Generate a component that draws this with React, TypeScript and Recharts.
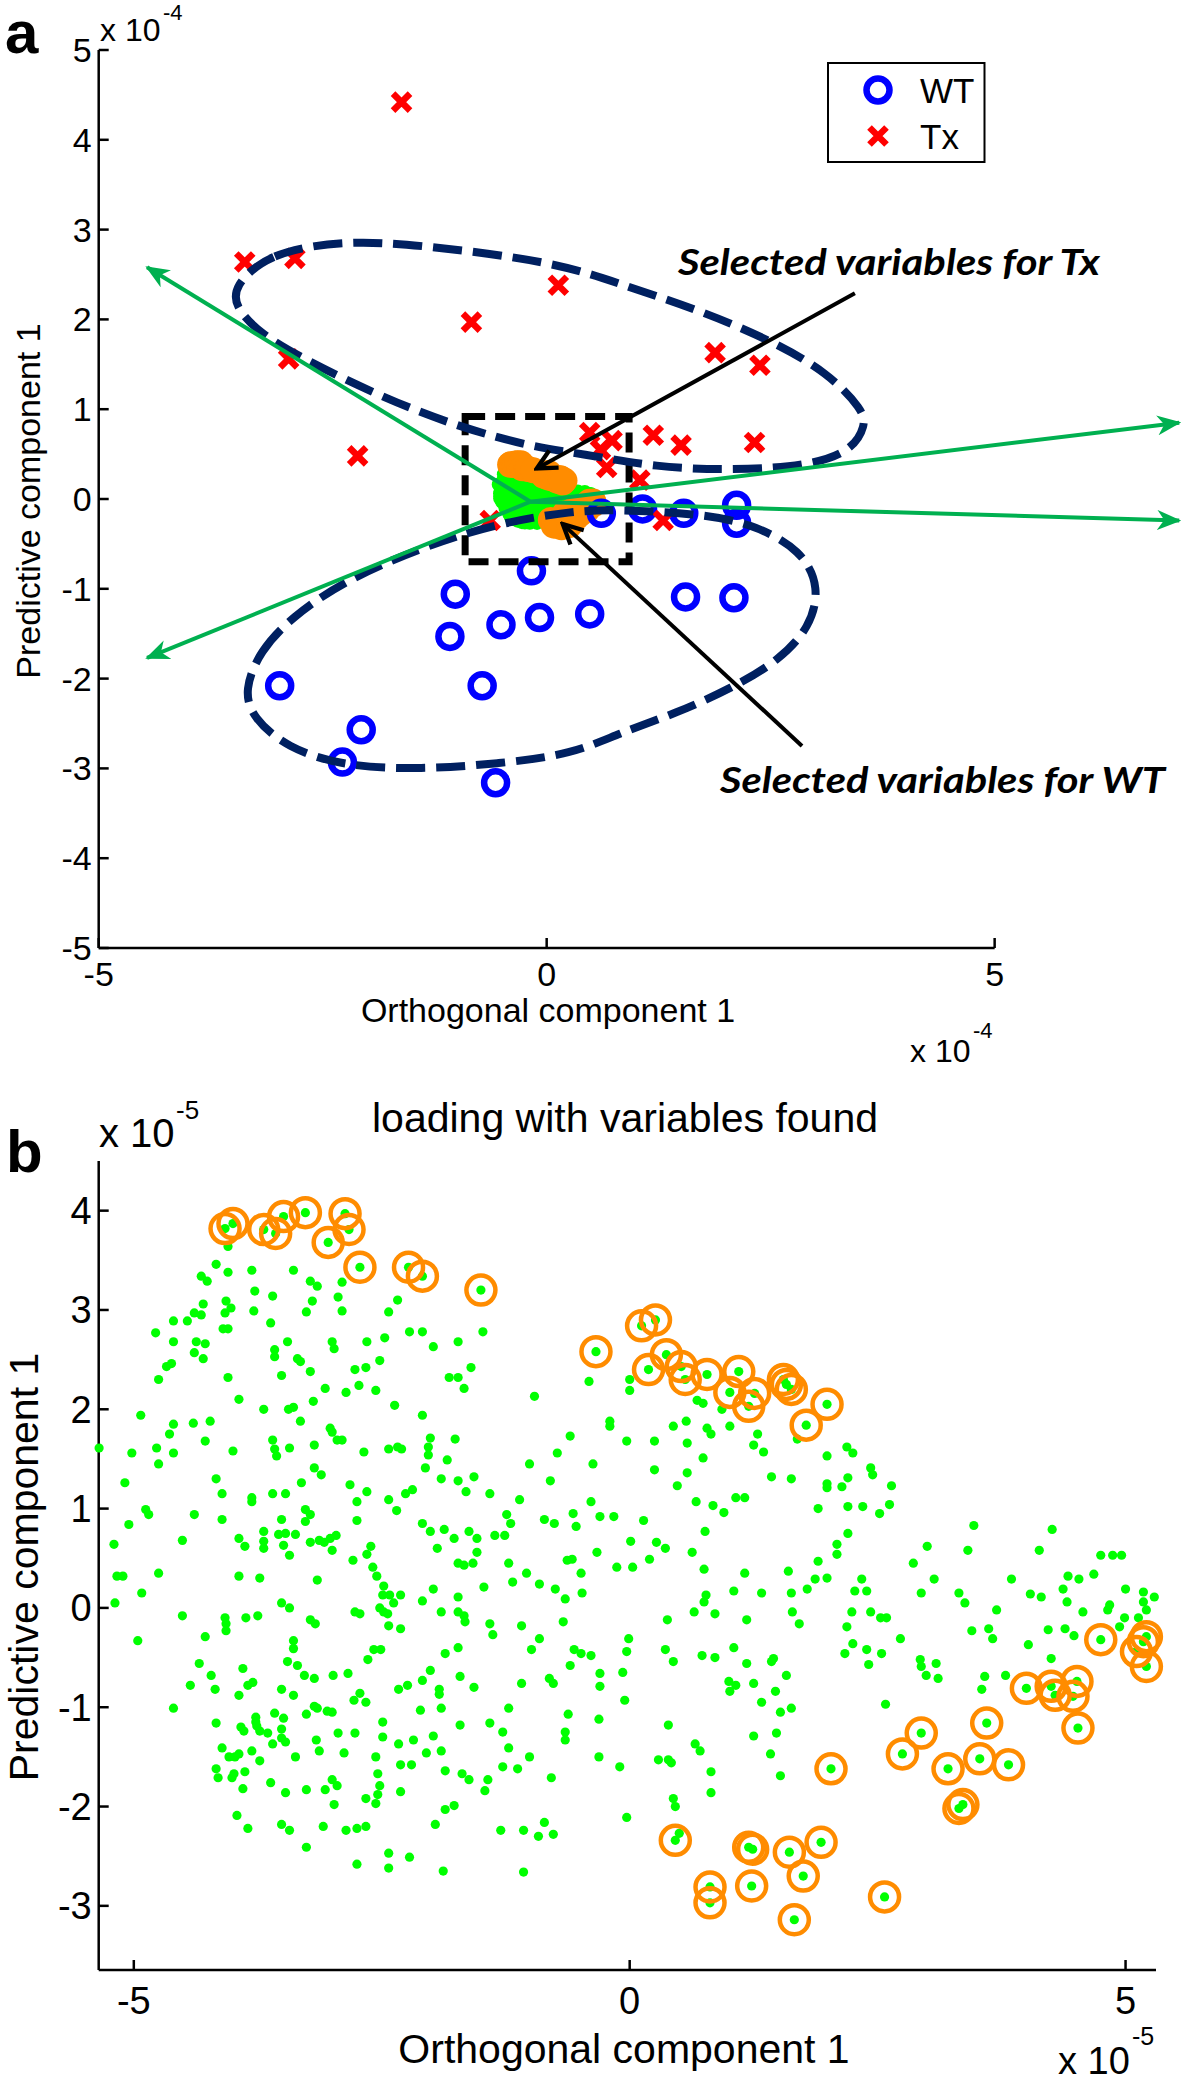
import React from 'react';
import { ComposedChart, Scatter, Line, XAxis, YAxis, ReferenceLine, ReferenceArea } from 'recharts';

const FONT = '"Liberation Sans", Arial, Helvetica, sans-serif';
const ANNOT_FONT = 'Lato, "Open Sans", sans-serif';

// ---------- Panel a : scores (units x 1e-4) ----------
const wtScores: number[][] = [
  [-1.02, -1.06], [-0.17, -0.8], [-1.08, -1.53], [-0.51, -1.4], [-0.08, -1.32], [0.48, -1.28],
  [-2.98, -2.08], [-0.72, -2.08], [-2.07, -2.57], [-2.28, -2.93], [-0.57, -3.16], [0.61, -0.16],
  [1.07, -0.11], [1.53, -0.16], [2.12, -0.07], [2.12, -0.27], [1.55, -1.09], [2.09, -1.1],
];
const txScores: number[][] = [
  [-1.62, 4.42], [-3.37, 2.64], [-2.81, 2.68], [-0.84, 1.97], [0.13, 2.38], [-2.88, 1.56],
  [-2.11, 0.48], [1.88, 1.63], [2.38, 1.49], [1.19, 0.71], [1.5, 0.6], [2.32, 0.63],
  [0.48, 0.74], [0.73, 0.65], [0.67, 0.35], [1.04, 0.21], [1.3, -0.24], [-0.63, -0.24], [0.6, 0.55],
];
// confidence ellipses, outline points
const ellipseTx: number[][] = [
  [-3.5, 2.36], [-3.11, 2.74], [-2.26, 2.88], [-1.4, 2.83], [0.09, 2.64], [0.8, 2.4], [1.66, 2.12],
  [2.5, 1.77], [3.15, 1.4], [3.53, 0.99], [3.56, 0.82], [3.41, 0.54], [2.94, 0.37], [2.08, 0.32],
  [1.23, 0.35], [0.37, 0.51], [-0.12, 0.57], [-0.98, 0.8], [-1.83, 1.13], [-2.68, 1.54], [-3.2, 1.84], [-3.47, 2.13],
];
const ellipseWT: number[][] = [
  [-3.38, -2.13], [-3.2, -1.69], [-2.85, -1.32], [-2.26, -0.91], [-1.4, -0.54], [-0.55, -0.27],
  [0.3, -0.13], [0.8, -0.12], [1.66, -0.16], [2.29, -0.27], [2.85, -0.57], [3.05, -0.99],
  [2.94, -1.43], [2.59, -1.8], [2.08, -2.1], [1.44, -2.39], [0.8, -2.61], [0.3, -2.84],
  [-0.55, -2.95], [-1.4, -3.01], [-2.26, -2.98], [-2.9, -2.77], [-3.28, -2.44],
];
const arrowOrigin = [-0.18, -0.03];
const greenArrowTips: number[][] = [[-4.46, 2.58], [-4.46, -1.77], [7.06, 0.85], [7.06, -0.24]];
const selBox = { x1: -0.91, x2: 0.92, y1: -0.7, y2: 0.92 };
const txPointer: number[][] = [[3.44, 2.29], [-0.11, 0.34]];
const wtPointer: number[][] = [[2.85, -2.75], [0.18, -0.28]];

// ---------- Panel b : loadings (units x 1e-5) ----------
const selectedLoadings: number[][] = [
  [-4.08, 3.82], [-4.0, 3.87], [-3.69, 3.81], [-3.57, 3.77], [-3.49, 3.94], [-3.27, 3.98], [-3.04, 3.68],
  [-2.87, 3.97], [-2.83, 3.81], [-2.72, 3.43], [-2.23, 3.43], [-2.09, 3.34], [-1.5, 3.2], [-0.34, 2.58],
  [0.12, 2.84], [0.26, 2.9], [0.19, 2.4], [0.37, 2.55], [0.52, 2.43], [0.56, 2.3], [0.78, 2.35],
  [1.1, 2.38], [1.01, 2.17], [1.2, 2.03], [1.26, 2.16], [1.55, 2.3], [1.58, 2.25], [1.63, 2.2],
  [1.99, 2.05], [1.78, 1.84],
  [4.75, -0.32], [5.18, -0.34], [5.21, -0.29], [5.11, -0.44], [5.21, -0.59], [4.0, -0.81], [4.25, -0.79],
  [4.51, -0.74], [4.29, -0.88], [4.47, -0.89], [4.52, -1.21], [3.6, -1.16], [2.94, -1.26], [2.75, -1.47],
  [3.21, -1.62], [3.53, -1.52], [3.82, -1.58], [3.36, -1.98], [3.32, -2.02], [2.03, -1.62], [0.46, -2.34],
  [1.2, -2.41], [1.24, -2.43], [1.61, -2.46], [1.93, -2.36], [1.75, -2.7], [0.81, -2.81], [0.81, -2.97],
  [1.23, -2.8], [1.66, -3.14], [2.57, -2.91],
];
const otherLoadingsUpperLeft: number[][] = [
  [-4.05, 3.64], [-4.17, 3.46], [-4.05, 3.38], [-3.81, 3.4], [-3.39, 3.4], [-4.32, 3.34], [-4.26, 3.29],
  [-3.22, 3.29], [-3.15, 3.24], [-2.9, 3.28], [-3.78, 3.19], [-3.6, 3.14], [-4.07, 3.09], [-4.3, 3.06],
  [-3.2, 3.09], [-2.94, 3.13], [-2.34, 3.1], [-4.08, 2.97], [-4.02, 3.02], [-4.39, 2.97], [-4.32, 2.95],
  [-3.79, 2.99], [-3.26, 2.98], [-2.9, 2.99], [-2.43, 2.98], [-4.46, 2.89], [-4.6, 2.89], [-3.62, 2.87],
  [-4.1, 2.81], [-4.05, 2.81], [-2.22, 2.78], [-2.09, 2.78], [-1.48, 2.78], [-4.78, 2.77], [-4.6, 2.68],
  [-4.37, 2.68], [-4.28, 2.66], [-3.45, 2.68], [-3.0, 2.68], [-2.65, 2.68], [-2.47, 2.72], [-1.73, 2.68],
  [-1.98, 2.63], [-3.58, 2.6], [-3.58, 2.53], [-2.98, 2.61], [-4.39, 2.57], [-4.3, 2.51], [-3.35, 2.51],
  [-3.32, 2.48], [-2.52, 2.49], [-4.67, 2.43], [-4.62, 2.46], [-3.22, 2.38], [-2.77, 2.4], [-2.66, 2.42],
  [-1.6, 2.42], [-1.82, 2.32], [-1.73, 2.32], [-0.41, 2.28], [-4.75, 2.3], [-4.05, 2.32], [-3.51, 2.34],
  [-3.07, 2.21], [-2.86, 2.17], [-2.73, 2.24], [-2.56, 2.19], [-1.67, 2.21], [-0.96, 2.13], [-3.94, 2.1],
  [-3.69, 2.0], [-3.44, 2.0], [-3.39, 2.02], [-2.37, 2.04], [-3.19, 2.08], [-4.93, 1.94], [-2.09, 1.94],
  [-4.4, 1.86], [-4.6, 1.85], [-4.23, 1.88], [-3.32, 1.88], [-4.64, 1.75], [-4.28, 1.68], [-4.0, 1.58],
  [-4.6, 1.56], [-5.02, 1.56], [-4.77, 1.61], [-4.75, 1.45], [-3.02, 1.81], [-3.0, 1.77], [-2.95, 1.69],
  [-2.9, 1.69], [-3.6, 1.69], [-3.58, 1.6], [-3.56, 1.53], [-3.43, 1.61], [-3.18, 1.64], [-2.68, 1.57],
  [-2.43, 1.6], [-2.34, 1.62], [-2.3, 1.6], [-2.01, 1.71], [-2.03, 1.62], [-2.03, 1.54], [-2.06, 1.41],
  [-1.76, 1.7], [-1.84, 1.49], [-1.9, 1.3], [-1.73, 1.28], [-1.65, 1.17], [-1.57, 1.32], [-1.41, 1.15],
  [-1.11, 1.09], [-1.01, 1.45], [-0.73, 1.56], [-0.6, 1.73], [-0.8, 1.28], [-0.37, 1.45], [-4.17, 1.3],
  [-4.11, 1.15], [-5.09, 1.26], [-5.35, 1.61], [-3.31, 1.26], [-3.18, 1.41], [-3.11, 1.34], [-2.82, 1.24],
  [-2.75, 1.07], [-2.65, 1.17], [-2.26, 1.15], [-2.19, 1.19], [-3.81, 1.11], [-3.81, 1.07], [-3.6, 1.15],
  [-3.47, 1.15], [-2.43, 1.09], [-2.35, 0.98], [-0.39, 1.07], [-0.3, 0.92], [-5.2, 0.64], [-5.05, 0.84],
  [-4.88, 0.99], [-4.85, 0.94], [-4.39, 0.94], [-4.11, 0.89], [-3.51, 0.89], [-3.27, 0.99], [-3.22, 0.94],
  [-3.27, 0.87], [-2.75, 0.88], [-3.69, 0.77], [-3.69, 0.67], [-3.69, 0.6], [-3.94, 0.7], [-3.88, 0.62],
  [-3.54, 0.74], [-3.47, 0.75], [-3.49, 0.63], [-3.43, 0.53], [-3.37, 0.74], [-3.22, 0.66], [-3.13, 0.68],
  [-3.08, 0.66], [-3.02, 0.7], [-2.96, 0.73], [-3.0, 0.58], [-2.79, 0.48], [-2.65, 0.54], [-2.61, 0.62],
  [-2.59, 0.41], [-2.09, 0.85], [-2.01, 0.77], [-1.87, 0.79], [-1.77, 0.7], [-1.94, 0.6], [-1.62, 0.77],
  [-1.54, 0.7], [-1.54, 0.56], [-1.73, 0.45], [-1.67, 0.43], [-1.58, 0.45], [-1.36, 0.73], [-1.26, 0.73],
  [-1.24, 0.94], [-1.2, 0.85], [-0.86, 0.89], [-0.76, 0.85], [-0.57, 0.95], [-0.54, 0.82], [-0.63, 0.48],
  [-0.58, 0.49], [-0.49, 0.35], [-0.33, 0.56], [-1.22, 0.45], [-1.04, 0.35], [-4.51, 0.68], [-4.75, 0.35],
  [-5.11, 0.32], [-5.17, 0.32], [-3.94, 0.32], [-3.73, 0.3], [-3.15, 0.28], [-2.55, 0.32],
];
const otherLoadingsUpperRight: number[][] = [
  [0.0, 2.3], [0.0, 2.19], [-0.2, 1.88], [-0.2, 1.83], [-0.03, 1.68], [0.25, 1.68], [0.44, 1.83],
  [0.57, 1.88], [0.68, 2.09], [0.74, 2.06], [0.93, 2.0], [0.78, 1.81], [0.82, 1.75], [1.01, 1.83],
  [0.58, 1.66], [1.29, 1.75], [1.25, 1.64], [1.35, 1.57], [0.74, 1.51], [0.25, 1.39], [0.58, 1.36],
  [1.43, 1.32], [1.63, 1.3], [1.69, 1.7], [1.99, 1.53], [2.19, 1.62], [2.25, 1.56], [2.2, 1.31],
  [2.43, 1.41], [2.45, 1.34], [2.64, 1.23], [0.48, 1.23], [1.99, 1.25], [1.99, 1.21], [2.14, 1.22],
  [-0.16, 0.92], [0.14, 0.88], [0.67, 1.07], [0.84, 1.03], [0.95, 0.96], [1.07, 1.11], [1.16, 1.11],
  [0.76, 0.77], [0.01, 0.67], [0.27, 0.66], [0.36, 0.6], [0.2, 0.49], [0.63, 0.56], [-0.13, 0.41],
  [0.03, 0.41], [0.75, 0.39], [1.16, 0.35], [1.6, 0.37], [1.9, 0.47], [2.09, 0.64], [2.09, 0.54],
  [2.2, 0.75], [1.9, 1.0], [2.2, 1.02], [2.35, 1.02], [2.52, 0.95], [2.62, 1.04], [2.86, 0.45],
  [3.0, 0.62], [3.41, 0.58], [3.47, 0.83], [4.13, 0.58], [4.26, 0.79], [4.75, 0.53], [4.87, 0.53],
  [4.96, 0.53], [4.42, 0.32], [4.53, 0.29], [4.68, 0.34], [3.85, 0.29], [3.07, 0.29], [2.34, 0.29],
  [1.99, 0.3], [1.87, 0.29],
];
const otherLoadingsLowerLeft: number[][] = [
  [-4.92, 0.15], [-5.19, 0.05], [-2.48, 0.22], [-2.49, 0.13], [-2.42, 0.13], [-2.31, 0.13], [-2.38, 0.05],
  [-1.18, 0.26], [-1.47, 0.21], [-1.98, 0.19], [-2.09, 0.07], [-1.73, 0.11], [-0.91, 0.24], [-0.75, 0.19],
  [-0.65, 0.09], [-0.48, 0.15], [-4.51, -0.08], [-4.96, -0.33], [-4.08, -0.1], [-4.07, -0.16], [-4.07, -0.23],
  [-3.87, -0.1], [-3.75, -0.08], [-3.51, 0.05], [-3.43, 0.0], [-3.22, -0.12], [-3.17, -0.16], [-2.77, -0.04],
  [-2.72, -0.06], [-2.52, 0.0], [-2.48, -0.04], [-2.44, -0.06], [-2.43, -0.18], [-2.31, -0.21], [-1.9, -0.04],
  [-1.73, -0.04], [-1.67, -0.08], [-1.66, -0.14], [-1.41, -0.16], [-1.38, -0.27], [-1.09, -0.18], [-0.91, -0.31],
  [-0.67, -0.14], [-4.28, -0.29], [-3.39, -0.33], [-3.39, -0.41], [-3.45, -0.54], [-3.35, -0.58], [-3.28, -0.68],
  [-3.18, -0.71], [-2.99, -0.68], [-2.84, -0.66], [-2.64, -0.52], [-2.58, -0.42], [-2.51, -0.42], [-4.34, -0.56],
  [-4.22, -0.68], [-4.18, -0.82], [-4.43, -0.78], [-4.6, -1.01], [-3.9, -0.61], [-3.85, -0.78], [-3.8, -0.75],
  [-3.94, -0.88], [-3.51, -0.82], [-3.39, -0.88], [-2.33, -0.82], [-2.24, -0.78], [-2.09, -0.73], [-2.01, -0.63],
  [-1.92, -0.82], [-1.92, -0.87], [-1.86, -0.46], [-1.73, -0.4], [-1.71, -0.69], [-1.57, -0.8], [-1.09, -0.76],
  [-0.99, -0.42], [-0.81, -0.71], [-0.77, -0.76], [-0.6, -0.58], [-0.56, -0.42], [-0.49, -0.46], [-0.39, -0.48],
  [-0.3, -0.66], [-0.3, -0.79], [-2.78, -0.93], [-2.72, -0.86], [-2.66, -0.95], [-3.18, -0.99], [-3.15, -1.01],
  [-3.05, -1.04], [-3.0, -1.05], [-3.26, -1.07], [-2.49, -1.15], [-2.11, -1.03], [-1.9, -1.01], [-1.22, -1.01],
  [-0.62, -1.07], [-0.31, -1.12], [-4.17, -1.16], [-3.92, -1.2], [-3.89, -1.24], [-3.77, -1.1], [-3.77, -1.15],
  [-3.76, -1.19], [-3.73, -1.24], [-3.65, -1.26], [-3.58, -1.06], [-3.49, -1.11], [-3.51, -1.22], [-3.51, -1.31],
  [-3.47, -1.35], [-3.6, -1.37], [-3.16, -1.33], [-3.13, -1.44], [-2.94, -1.26], [-2.77, -1.26], [-2.49, -1.3],
  [-2.18, -1.33], [-1.98, -1.29], [-1.71, -1.18], [-1.41, -1.16], [-1.28, -1.25], [-0.65, -1.25], [-0.65, -1.33],
  [-4.11, -1.41], [-4.04, -1.5], [-3.98, -1.5], [-3.94, -1.47], [-3.81, -1.44], [-3.73, -1.54], [-3.37, -1.5],
  [-2.88, -1.46], [-2.56, -1.5], [-2.33, -1.37], [-2.31, -1.58], [-2.2, -1.58], [-2.05, -1.46], [-1.9, -1.44],
  [-1.22, -1.41], [-1.01, -1.5], [-0.31, -1.5], [-4.17, -1.62], [-4.15, -1.71], [-4.01, -1.71], [-3.99, -1.67],
  [-3.88, -1.65], [-3.9, -1.82], [-3.62, -1.76], [-3.47, -1.86], [-3.26, -1.83], [-3.07, -1.83], [-3.0, -1.73],
  [-2.95, -1.79], [-2.98, -1.98], [-2.54, -1.67], [-2.52, -1.79], [-2.54, -1.88], [-2.56, -1.97], [-2.31, -1.85],
  [-1.86, -1.64], [-1.69, -1.67], [-1.62, -1.73], [-1.43, -1.73], [-1.46, -1.84], [-1.28, -1.6], [-1.13, -1.62],
  [-0.79, -1.71], [-2.66, -1.92], [-3.96, -2.09], [-3.85, -2.22], [-3.51, -2.18], [-3.43, -2.24], [-3.09, -2.2],
  [-2.86, -2.24], [-2.75, -2.22], [-2.66, -2.2], [-3.26, -2.41], [-1.96, -2.18], [-1.86, -2.03], [-1.77, -1.99],
  [-1.3, -2.24], [-1.07, -2.24], [-0.86, -2.16], [-0.92, -2.3], [-0.77, -2.28], [-2.75, -2.58], [-2.43, -2.47],
  [-2.43, -2.62], [-2.22, -2.51], [-1.88, -2.65], [-1.07, -2.66],
];
const otherLoadingsLowerRight: number[][] = [
  [1.79, 0.19], [2.27, 0.17], [2.39, 0.17], [2.94, 0.15], [3.32, 0.15], [3.38, 0.05], [4.04, 0.14],
  [4.15, 0.11], [3.7, -0.02], [4.37, 0.19], [5.0, 0.19], [5.18, 0.16], [5.29, 0.11], [5.18, 0.06],
  [5.21, -0.02], [4.84, 0.03], [4.82, -0.02], [4.57, -0.04], [4.41, 0.06], [4.99, -0.1], [4.94, -0.19],
  [5.13, -0.1], [4.22, -0.22], [4.39, -0.21], [4.48, -0.28], [4.02, -0.37], [4.25, -0.51], [3.45, -0.23],
  [3.62, -0.21], [3.66, -0.31], [2.73, -0.31], [2.54, -0.46], [2.39, -0.42], [2.41, -0.57], [2.24, -0.04],
  [2.19, -0.19], [2.25, -0.36], [2.17, -0.46], [2.43, -0.04], [2.53, -0.1], [2.59, -0.1], [1.64, -0.04],
  [1.71, -0.16], [1.63, 0.15], [1.33, 0.15], [1.18, -0.12], [1.05, 0.17], [0.65, -0.04], [0.75, 0.06],
  [0.77, 0.13], [0.86, -0.06], [0.38, -0.12], [-0.01, -0.31], [-0.03, -0.44], [0.36, -0.42], [0.44, -0.54],
  [0.73, -0.48], [0.86, -0.5], [1.05, -0.4], [1.18, -0.56], [1.25, -0.76], [1.0, -0.74], [1.07, -0.78],
  [1.01, -0.84], [1.43, -0.54], [1.45, -0.51], [1.58, -0.68], [1.47, -0.84], [1.33, -0.95], [1.52, -1.05],
  [1.63, -1.01], [-0.07, -0.65], [-0.05, -0.93], [0.39, -1.18], [0.66, -1.37], [0.71, -1.44], [1.25, -1.29],
  [1.48, -1.26], [1.42, -1.47], [-0.1, -1.6], [0.29, -1.53], [0.39, -1.53], [0.42, -1.56], [0.82, -1.65],
  [0.82, -1.86], [1.52, -1.69], [0.44, -1.92], [0.46, -2.0], [-0.03, -2.11], [0.5, -2.27], [2.93, -0.52],
  [2.94, -0.59], [2.99, -0.68], [3.09, -0.56], [3.11, -0.71], [3.58, -0.69], [3.55, -0.82], [3.79, -0.68],
  [2.58, -0.97],
];

const ticksAY = [-5, -4, -3, -2, -1, 0, 1, 2, 3, 4, 5];
const ticksAX = [-5, 0, 5];
const ticksBY = [-3, -2, -1, 0, 1, 2, 3, 4];
const ticksBX = [-5, 0, 5];
// loadings are in 1e-5 units, panel a axes are in 1e-4 units
const LOADING_TO_SCORE_UNITS = 0.1;

const toXY = (arr: number[][], k = 1) => arr.map(([x, y]) => ({ x: x * k, y: y * k }));
const allLoadings = [
  ...otherLoadingsUpperLeft, ...otherLoadingsUpperRight, ...otherLoadingsLowerLeft,
  ...otherLoadingsLowerRight, ...selectedLoadings,
];

const GREEN = '#00FF00';
const ORANGE = '#FF8C00';
const ARROW_GREEN = '#00B050';
const NAVY = '#002060';

const dotShape = (r: number, fill: string) => (p: any) => <circle cx={p.cx} cy={p.cy} r={r} fill={fill} />;
const ringShape = (r: number, stroke: string, w: number) => (p: any) => (
  <circle cx={p.cx} cy={p.cy} r={r} fill="none" stroke={stroke} strokeWidth={w} />
);
const crossShape = (p: any) => {
  const a = 8.5;
  return (
    <path
      d={`M${p.cx - a},${p.cy - a}L${p.cx + a},${p.cy + a}M${p.cx + a},${p.cy - a}L${p.cx - a},${p.cy + a}`}
      stroke="#FF0000"
      strokeWidth={6.5}
      fill="none"
    />
  );
};

const lineCommon = { dot: false, activeDot: false, isAnimationActive: false, legendType: 'none' as const, dataKey: 'y' };

// shared geometry of panel a (base chart and overlay chart use identical axes)
const A_CHART = { width: 1181, height: 1000, margin: { top: 50, right: 0, bottom: 0, left: 0 } };
const A_XDOMAIN = [-5, 7.08];
const A_YDOMAIN = [-5, 5];

export default function App() {
  const tickA = { fill: '#000', fontSize: 34, fontFamily: FONT };
  const tickB = { fill: '#000', fontSize: 38, fontFamily: FONT };
  const axisStroke = { stroke: '#000', strokeWidth: 2.5 };
  const tickStroke = { stroke: '#000', strokeWidth: 2.5 };
  const origin = { x: arrowOrigin[0], y: arrowOrigin[1] };

  return (
    <div style={{ position: 'absolute', left: 0, top: 0, width: 1181, height: 2084, background: '#fff' }}>
      {/* Panel a : axes and markers */}
      <div style={{ position: 'absolute', left: 0, top: 0 }}>
        <ComposedChart {...A_CHART}>
          <XAxis
            type="number"
            dataKey="x"
            domain={A_XDOMAIN}
            ticks={ticksAX}
            interval={0}
            axisLine={false}
            tickLine={tickStroke}
            tickSize={-10}
            tickMargin={24}
            height={52}
            tick={tickA}
          />
          <YAxis
            type="number"
            dataKey="y"
            domain={A_YDOMAIN}
            ticks={ticksAY}
            interval={0}
            width={98.7}
            axisLine={axisStroke}
            tickLine={tickStroke}
            tickSize={-10}
            tickMargin={17}
            tick={tickA}
          />
          <ReferenceLine segment={[{ x: -5, y: -5 }, { x: 5, y: -5 }]} stroke="#000" strokeWidth={2.5} />
          <Scatter data={toXY(allLoadings, LOADING_TO_SCORE_UNITS)} shape={dotShape(7, GREEN)} isAnimationActive={false} />
          <Scatter data={toXY(selectedLoadings, LOADING_TO_SCORE_UNITS)} shape={dotShape(13, ORANGE)} isAnimationActive={false} />
          <Scatter data={toXY(wtScores)} shape={ringShape(11.5, '#0000FF', 6.5)} isAnimationActive={false} />
          <Scatter data={toXY(txScores)} shape={crossShape} isAnimationActive={false} />
        </ComposedChart>
      </div>

      {/* Panel a : ellipses, loading arrows, selection box and pointers drawn on top */}
      <div style={{ position: 'absolute', left: 0, top: 0 }}>
        <ComposedChart {...A_CHART}>
          <XAxis type="number" dataKey="x" domain={A_XDOMAIN} ticks={ticksAX} height={52} tick={false} axisLine={false} tickLine={false} />
          <YAxis type="number" dataKey="y" domain={A_YDOMAIN} ticks={ticksAY} width={98.7} tick={false} axisLine={false} tickLine={false} />
          <Line {...lineCommon} data={toXY(ellipseTx)} type="basisClosed" stroke={NAVY} strokeWidth={8} strokeDasharray="29 11" />
          <Line {...lineCommon} data={toXY(ellipseWT)} type="basisClosed" stroke={NAVY} strokeWidth={8} strokeDasharray="29 11" />
          {greenArrowTips.map((t, i) => (
            <Line
              key={'g' + i}
              {...lineCommon}
              data={[origin, { x: t[0], y: t[1] }]}
              type="linear"
              stroke={ARROW_GREEN}
              strokeWidth={4}
              markerEnd="url(#arrowGreen)"
            />
          ))}
          <ReferenceArea
            x1={selBox.x1}
            x2={selBox.x2}
            y1={selBox.y1}
            y2={selBox.y2}
            fill="none"
            fillOpacity={0}
            stroke="#000"
            strokeWidth={7}
            strokeDasharray="20 10"
          />
          <Line {...lineCommon} data={toXY(txPointer)} type="linear" stroke="#000" strokeWidth={4} markerEnd="url(#arrowBlack)" />
          <Line {...lineCommon} data={toXY(wtPointer)} type="linear" stroke="#000" strokeWidth={4} markerEnd="url(#arrowBlack)" />
        </ComposedChart>
      </div>

      {/* Panel b */}
      <div style={{ position: 'absolute', left: 0, top: 1100 }}>
        <ComposedChart width={1181} height={930} margin={{ top: 61, right: 25, bottom: 0, left: 0 }}>
          <XAxis
            type="number"
            dataKey="x"
            domain={[-5.354, 5.307]}
            ticks={ticksBX}
            interval={0}
            axisLine={axisStroke}
            tickLine={tickStroke}
            tickSize={-10}
            tickMargin={27}
            height={60}
            tick={tickB}
          />
          <YAxis
            type="number"
            dataKey="y"
            domain={[-3.646, 4.5]}
            ticks={ticksBY}
            interval={0}
            width={98.7}
            axisLine={axisStroke}
            tickLine={tickStroke}
            tickSize={-10}
            tickMargin={17}
            tick={tickB}
          />
          <Scatter data={toXY(allLoadings)} shape={dotShape(4.6, GREEN)} isAnimationActive={false} />
          <Scatter data={toXY(selectedLoadings)} shape={ringShape(14.5, ORANGE, 4.5)} isAnimationActive={false} />
        </ComposedChart>
      </div>

      {/* Text, legend and arrow markers */}
      <svg
        width={1181}
        height={2084}
        style={{ position: 'absolute', left: 0, top: 0, pointerEvents: 'none' }}
      >
        <defs>
          <marker id="arrowGreen" viewBox="0 0 24 20" refX="22" refY="10" markerWidth="24" markerHeight="20" markerUnits="userSpaceOnUse" orient="auto">
            <path d="M0,0 L24,10 L0,20 L7,10 Z" fill={ARROW_GREEN} />
          </marker>
          <marker id="arrowBlack" viewBox="0 0 24 24" refX="21" refY="12" markerWidth="26" markerHeight="26" markerUnits="userSpaceOnUse" orient="auto">
            <path d="M3,3 L21,12 L3,21" fill="none" stroke="#000" strokeWidth="4" />
          </marker>
        </defs>

        {/* panel a labels */}
        <text x={5} y={53} fontFamily={FONT} fontWeight="bold" fontSize={60}>a</text>
        <text x={100} y={41} fontFamily={FONT} fontSize={32}>x 10</text>
        <text x={163} y={20} fontFamily={FONT} fontSize={22}>-4</text>
        <text x={548} y={1022} fontFamily={FONT} fontSize={34} textAnchor="middle">Orthogonal component 1</text>
        <text x={910} y={1062} fontFamily={FONT} fontSize={32}>x 10</text>
        <text x={973} y={1038} fontFamily={FONT} fontSize={22}>-4</text>
        <text
          x={40}
          y={501}
          fontFamily={FONT}
          fontSize={34}
          textAnchor="middle"
          transform="rotate(-90 40 501)"
        >
          Predictive component 1
        </text>

        {/* legend */}
        <rect x={828} y={63} width={156.5} height={99} fill="#fff" stroke="#000" strokeWidth={2} />
        <circle cx={878} cy={90} r={11.5} fill="none" stroke="#0000FF" strokeWidth={6.5} />
        <path d="M869.5,127.5L886.5,144.5M886.5,127.5L869.5,144.5" stroke="#FF0000" strokeWidth={6.5} />
        <text x={920} y={103} fontFamily={FONT} fontSize={35}>WT</text>
        <text x={920} y={149} fontFamily={FONT} fontSize={35}>Tx</text>

        {/* annotations */}
        <text x={678} y={275} fontFamily={ANNOT_FONT} fontWeight="bold" fontStyle="italic" fontSize={37} textLength={422} lengthAdjust="spacingAndGlyphs">
          Selected variables for Tx
        </text>
        <text x={720} y={793} fontFamily={ANNOT_FONT} fontWeight="bold" fontStyle="italic" fontSize={37} textLength={445} lengthAdjust="spacingAndGlyphs">
          Selected variables for WT
        </text>

        {/* panel b labels */}
        <text x={6} y={1172} fontFamily={FONT} fontWeight="bold" fontSize={60}>b</text>
        <text x={99} y={1147} fontFamily={FONT} fontSize={40}>x 10</text>
        <text x={176} y={1119} fontFamily={FONT} fontSize={26}>-5</text>
        <text x={625} y={1132} fontFamily={FONT} fontSize={41} textAnchor="middle">loading with variables found</text>
        <text x={624} y={2063} fontFamily={FONT} fontSize={41} textAnchor="middle">Orthogonal component 1</text>
        <text x={1058} y={2074} fontFamily={FONT} fontSize={38}>x 10</text>
        <text x={1132} y={2045} fontFamily={FONT} fontSize={25}>-5</text>
        <text
          x={38}
          y={1567}
          fontFamily={FONT}
          fontSize={41}
          textAnchor="middle"
          transform="rotate(-90 38 1567)"
        >
          Predictive component 1
        </text>
      </svg>
    </div>
  );
}
